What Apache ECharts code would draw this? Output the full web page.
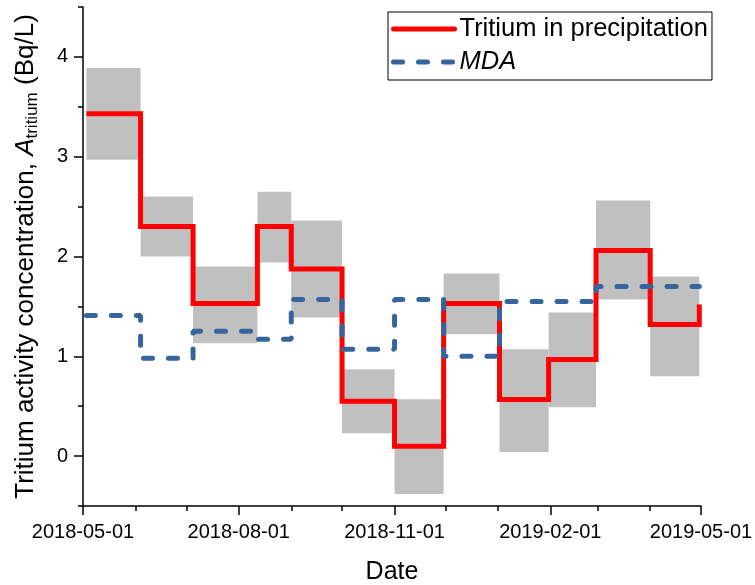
<!DOCTYPE html>
<html><head><meta charset="utf-8">
<script src="https://cdn.jsdelivr.net/npm/echarts@6/dist/echarts.min.js"></script>
<style>html,body{margin:0;padding:0;background:#fff}#c{width:755px;height:585px}</style>
</head><body><div id="c"></div>
<script>
// ---- data ----
const periodBounds = ['2018-05-03','2018-06-04','2018-07-05','2018-08-12','2018-09-01','2018-10-01','2018-11-01','2018-11-30','2019-01-02','2019-01-31','2019-02-28','2019-04-01','2019-04-30'];
const tritium = [3.43, 2.30, 1.53, 2.30, 1.876, 0.55, 0.098, 1.53, 0.566, 0.967, 2.06, 1.318];
const tritiumEnd = 1.52;
const tritiumHigh = [3.89, 2.60, 1.90, 2.65, 2.36, 0.87, 0.57, 1.83, 1.07, 1.44, 2.56, 1.80];
const tritiumLow = [2.97, 2.00, 1.13, 1.94, 1.39, 0.23, -0.38, 1.22, 0.04, 0.49, 1.57, 0.80];
const mda = [1.41, 0.98, 1.25, 1.17, 1.57, 1.07, 1.57, 1.00, 1.55, 1.55, 1.70, 1.70];
const mdaEnd = 1.70;
const xTickLabels = ['2018-05-01','2018-08-01','2018-11-01','2019-02-01','2019-05-01'];
const xMinorTicks = ['2018-06-01','2018-07-01','2018-09-01','2018-10-01','2018-12-01','2019-01-01','2019-03-01','2019-04-01'];
const yTickLabels = [0, 1, 2, 3, 4];
const yMinorTicks = [-0.5, 0.5, 1.5, 2.5, 3.5, 4.5];
const seriesNames = ['Tritium in precipitation', 'MDA'];

// ---- build ----
const FONT = '"Liberation Sans", Arial, sans-serif';
const RED = '#ff0000', BLUE = '#36659d';
const t = s => Date.parse(s);
const xMin = t(xTickLabels[0]), xMax = t(xTickLabels[xTickLabels.length - 1]);
const yMin = -0.5, yMax = 4.5;
const AX = {color: '#000', width: 1.5};
const redLine = {color: RED, width: 5, join: 'miter'};
const blueLine = {color: BLUE, width: 5, type: [9, 16], cap: 'round'};

const boxData = tritium.map((v, i) => [t(periodBounds[i]), t(periodBounds[i + 1]), tritiumLow[i], tritiumHigh[i]]);
const redData = periodBounds.map((d, i) => [t(d), i < tritium.length ? tritium[i] : tritiumEnd]);
const blueData = periodBounds.map((d, i) => [t(d), i < mda.length ? mda[i] : mdaEnd]);

const chart = echarts.init(document.getElementById('c'), null, {renderer: 'canvas'});
chart.setOption({
  animation: false,
  textStyle: {fontFamily: FONT},
  grid: {left: 83, right: 54, top: 7, bottom: 79, containLabel: false, outerBoundsMode: 'none'},
  legend: {
    left: 388, top: 12, orient: 'vertical', padding: [4, 4, 5, 3], itemGap: 7,
    itemWidth: 61, itemHeight: 14, borderColor: '#000', borderWidth: 1, backgroundColor: '#fff',
    textStyle: {fontSize: 25.5, color: '#000', fontFamily: FONT},
    selectedMode: false,
    data: [
      {name: seriesNames[0], lineStyle: {width: 5, color: RED, cap: 'round'}, itemStyle: {opacity: 0}},
      {name: seriesNames[1], textStyle: {fontStyle: 'italic'}, lineStyle: {width: 5, color: BLUE, type: [9, 16], cap: 'round'}, itemStyle: {opacity: 0}}
    ]
  },
  xAxis: [
    {
      type: 'value', position: 'bottom', min: xMin, max: xMax,
      name: 'Date', nameLocation: 'middle', nameGap: 54, nameMoveOverlap: false,
      nameTextStyle: {fontSize: 25, color: '#000', fontFamily: FONT},
      axisLine: {show: true, onZero: false, lineStyle: AX},
      axisTick: {show: true, inside: false, length: 9, lineStyle: AX, customValues: xTickLabels.map(t)},
      axisLabel: {show: true, margin: 16, fontSize: 20, color: '#000', fontFamily: FONT,
        customValues: xTickLabels.map(t), formatter: v => new Date(v).toISOString().slice(0, 10)},
      splitLine: {show: false}
    },
    {
      type: 'value', position: 'bottom', offset: 0, min: xMin, max: xMax,
      axisLine: {show: false, onZero: false},
      axisTick: {show: true, length: 5, lineStyle: AX, customValues: xMinorTicks.map(t)},
      axisLabel: {show: false}, splitLine: {show: false}
    }
  ],
  yAxis: [
    {
      type: 'value', position: 'left', min: yMin, max: yMax,
      name: '{n|Tritium activity concentration, }{a|A}{s|tritium}{n| (Bq/L)}',
      nameLocation: 'middle', nameGap: 42, nameRotate: 90, nameMoveOverlap: false,
      nameTextStyle: {
        color: '#000', fontFamily: FONT, fontSize: 26, lineHeight: 30,
        rich: {
          n: {fontSize: 26, lineHeight: 30, color: '#000', fontFamily: FONT},
          a: {fontSize: 26, lineHeight: 30, color: '#000', fontFamily: FONT, fontStyle: 'italic'},
          s: {fontSize: 17, lineHeight: 17, color: '#000', fontFamily: FONT, verticalAlign: 'bottom'}
        }
      },
      axisLine: {show: true, onZero: false, lineStyle: AX},
      axisTick: {show: true, inside: false, length: 9, lineStyle: AX, customValues: yTickLabels},
      axisLabel: {show: true, margin: 15, fontSize: 20, color: '#000', fontFamily: FONT, customValues: yTickLabels},
      splitLine: {show: false}
    },
    {
      type: 'value', position: 'left', offset: 0, min: yMin, max: yMax,
      axisLine: {show: false, onZero: false},
      axisTick: {show: true, length: 5, lineStyle: AX, customValues: yMinorTicks},
      axisLabel: {show: false}, splitLine: {show: false}
    }
  ],
  series: [
    {
      type: 'custom', silent: true, z: 1, xAxisIndex: 0, yAxisIndex: 0,
      encode: {x: [0, 1], y: [2, 3]},
      data: boxData,
      renderItem: (params, api) => {
        const p1 = api.coord([api.value(0), api.value(3)]);
        const p2 = api.coord([api.value(1), api.value(2)]);
        return {type: 'rect', shape: {x: p1[0], y: p1[1], width: p2[0] - p1[0], height: p2[1] - p1[1]},
          style: {fill: '#c0c0c0'}};
      }
    },
    {
      type: 'line', name: seriesNames[0], step: 'end', symbol: 'none', z: 2, xAxisIndex: 0, yAxisIndex: 0,
      data: redData, lineStyle: redLine, itemStyle: {color: RED}
    },
    {
      type: 'line', name: seriesNames[1], step: 'end', symbol: 'none', z: 3, xAxisIndex: 0, yAxisIndex: 0,
      data: blueData, lineStyle: blueLine, itemStyle: {color: BLUE}
    }
  ]
});
</script>
</body></html>
